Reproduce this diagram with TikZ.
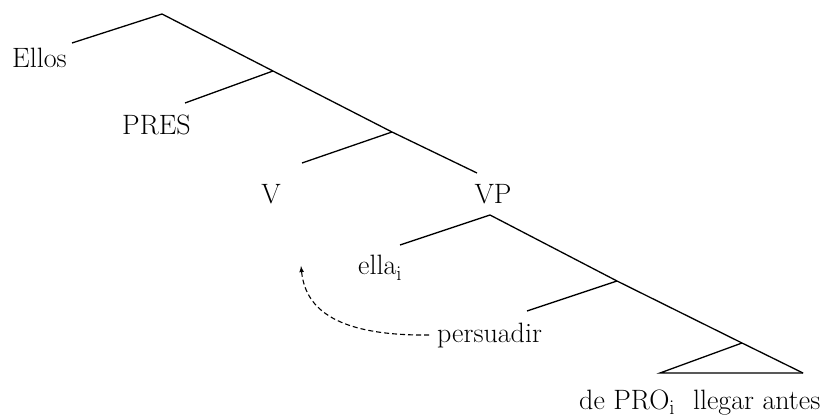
\documentclass[tikz,border=0pt]{standalone}
\tikzset{
  lbl/.style={anchor=base west, inner sep=0pt, font=\fontsize{28}{32}\selectfont},
  branch/.style={line width=1.3pt},
}
\begin{document}
\begin{tikzpicture}[x=1pt,y=-1pt]
      \useasboundingbox (0,0) rectangle (835,419);
      % spine
      \coordinate (root) at (162,14);
      \coordinate (n1) at (273,71);
      \coordinate (n2) at (392,132);
      \coordinate (top) at (477,173);
      \coordinate (vp) at (490,215);
      \coordinate (n4) at (617,281);
      \coordinate (tri) at (742,343);
      \coordinate (triL) at (660,373);
      \coordinate (triR) at (803,373);
      % leaf ends
      \coordinate (eEllos) at (72,43);
      \coordinate (ePres) at (185,103);
      \coordinate (eV) at (302,163);
      \coordinate (eElla) at (400,245);
      \coordinate (ePers) at (527,311);
      \node[lbl] (ellos) at (12,68) {Ellos};
      \node[lbl] (pres) at (122,135) {PRES};
      \node[lbl, anchor=base] (v) at (271,204) {V};
      \node[lbl, anchor=base] (vplbl) at (493,204) {VP};
      \node[lbl] (ella) at (358,275) {ella$_{\mathrm{i}}$};
      \node[lbl] (pers) at (437,343) {persuadir};
      \node[lbl] (depro) at (579,409) {de PRO$_{\mathrm{i}}$\hspace{18pt}llegar antes};
      \draw[branch] (eEllos) -- (root) -- (n1) -- (n2) -- (top);
      \draw[branch] (ePres) -- (n1);
      \draw[branch] (eV) -- (n2);
      \draw[branch] (eElla) -- (vp) -- (n4) -- (tri) -- (triR);
      \draw[branch] (ePers) -- (n4);
      \draw[branch] (tri) -- (triL) -- (triR);
      \draw[line width=1.1pt, dash pattern=on 5pt off 3pt, -latex] ([xshift=-8pt,yshift=1pt]pers.west) .. controls (330,336) and (305,305) .. (301,266);
    \end{tikzpicture}
\end{document}
